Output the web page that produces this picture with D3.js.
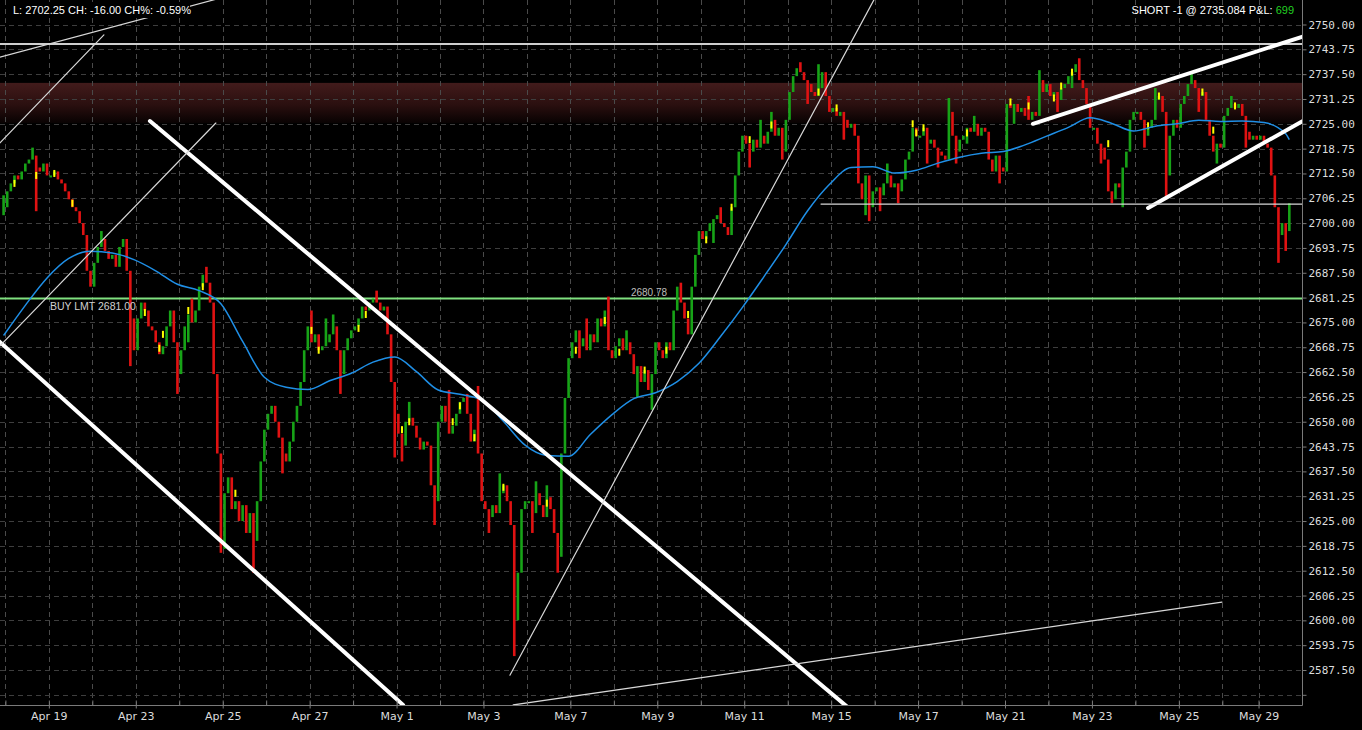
<!DOCTYPE html>
<html>
<head>
<meta charset="utf-8">
<style>
body { margin: 0; background: #000; }
svg { display: block; }
.axis text { fill: #dcdcdc; }
.axis line, .axis path { stroke: #7a7a7a; }
</style>
</head>
<body>
<svg id="chart"></svg>
<script src="https://cdn.jsdelivr.net/npm/d3@7"></script>
<script>
var width = 1362, height = 730;
var plotW = 1302, plotH = 705;

// trading sessions and how many bars each one holds (May 28 was a short holiday session)
var sessions = ["Apr 17", "Apr 18", "Apr 19", "Apr 20", "Apr 23", "Apr 24", "Apr 25", "Apr 26", "Apr 27", "Apr 30",
  "May 1", "May 2", "May 3", "May 4", "May 7", "May 8", "May 9", "May 10", "May 11", "May 14", "May 15",
  "May 16", "May 17", "May 18", "May 21", "May 22", "May 23", "May 24", "May 25", "May 28", "May 29"];
var sessionBars = [1, 12, 12, 12, 12, 12, 12, 12, 12, 12, 12, 12, 12, 12, 12, 12, 12, 12, 12, 12, 12,
  12, 12, 12, 12, 12, 12, 12, 12, 10, 12];
var labeledDays = ["Apr 19", "Apr 23", "Apr 25", "Apr 27", "May 1", "May 3", "May 7", "May 9", "May 11",
  "May 15", "May 17", "May 21", "May 23", "May 25", "May 29"];

// bar closes, one line per session (open = previous close)
var closes = [
  2707,
  2708, 2710, 2712, 2711, 2713, 2715, 2716, 2717, 2714, 2713, 2715, 2712,
  2712, 2713, 2711, 2710, 2708, 2706, 2704, 2703, 2700, 2697, 2688, 2684,
  2690, 2694, 2696, 2693, 2691, 2692, 2689, 2694, 2696, 2688, 2676, 2668,
  2676, 2680, 2678, 2674, 2673, 2670, 2667, 2669, 2674, 2678, 2670, 2662,
  2668, 2674, 2677, 2675, 2678, 2684, 2687, 2685, 2680, 2662, 2642, 2624,
  2632, 2636, 2628, 2630, 2625, 2629, 2622, 2627, 2620, 2630, 2640, 2648,
  2652, 2654, 2650, 2646, 2642, 2640, 2645, 2650, 2654, 2660, 2668, 2674,
  2670, 2672, 2668, 2669, 2670, 2672, 2674, 2668, 2662, 2668, 2671, 2673,
  2674, 2676, 2679, 2678, 2680, 2681, 2680, 2678, 2679, 2672, 2660, 2652,
  2647, 2644, 2650, 2651, 2649, 2646, 2643, 2645, 2644, 2634, 2630, 2650,
  2654, 2650, 2647, 2649, 2652, 2655, 2656, 2652, 2645, 2648, 2642, 2630,
  2628, 2626, 2629, 2627, 2632, 2634, 2630, 2624, 2600, 2612, 2628, 2630,
  2630, 2627, 2632, 2629, 2626, 2631, 2628, 2622, 2616, 2642, 2656, 2666,
  2670, 2673, 2669, 2671, 2668, 2672, 2670, 2676, 2674, 2678, 2668, 2666,
  2669, 2671, 2668, 2670, 2667, 2662, 2664, 2660, 2663, 2658, 2662, 2670,
  2668, 2666, 2670, 2668, 2678, 2684, 2680, 2676, 2672, 2684, 2692, 2698,
  2696, 2698, 2700, 2701, 2702, 2700, 2699, 2697, 2704, 2712, 2718, 2722,
  2720, 2718, 2721, 2719, 2722, 2720, 2723, 2726, 2722, 2724, 2718, 2726,
  2733, 2737, 2739, 2738, 2736, 2735, 2733, 2732, 2734, 2738, 2732, 2728,
  2729, 2727, 2728, 2726, 2724, 2725, 2722, 2710, 2706, 2712, 2704, 2708,
  2709, 2707, 2710, 2712, 2709, 2710, 2708, 2711, 2716, 2718, 2724, 2722,
  2722, 2724, 2720, 2721, 2719, 2718, 2717, 2716, 2728, 2722, 2718, 2721,
  2722, 2724, 2723, 2725, 2722, 2724, 2723, 2716, 2713, 2717, 2714, 2713,
  2730, 2729, 2730, 2728, 2729, 2727, 2726, 2728, 2727, 2736, 2733, 2735,
  2732, 2733, 2731, 2734, 2735, 2737, 2738, 2740, 2736, 2734, 2730, 2724,
  2724, 2720, 2719, 2716, 2708, 2706, 2710, 2709, 2714, 2718, 2726, 2728,
  2728, 2726, 2722, 2724, 2726, 2731, 2732, 2728, 2712, 2722, 2726, 2724,
  2730, 2732, 2735, 2736, 2734, 2732, 2733, 2726, 2722, 2718, 2720, 2719,
  2727, 2729, 2730, 2729, 2730, 2727, 2723, 2721, 2722, 2721,
  2722, 2720, 2719, 2712, 2704, 2697, 2700, 2698, 2702.25
];

// long wicks: [bar, extreme price]
var wicks = [[0, 2702], [1, 2704], [8, 2719], [9, 2703], [27, 2698], [35, 2664], [48, 2657], [51, 2670],
  [52, 2681], [56, 2689], [60, 2617], [61, 2618], [69, 2612], [77, 2637], [85, 2678], [89, 2676],
  [91, 2677], [93, 2657], [103, 2683], [108, 2641], [110, 2640], [112, 2655], [119, 2624], [123, 2658],
  [128, 2657], [131, 2659], [134, 2622], [137, 2637], [141, 2591], [146, 2622], [147, 2635], [150, 2634],
  [153, 2612], [159, 2666], [161, 2676], [167, 2681.5], [172, 2673], [175, 2656], [179, 2653],
  [187, 2685], [196, 2695], [198, 2704], [206, 2714], [209, 2726], [212, 2728], [215, 2716],
  [220, 2740.5], [222, 2730], [225, 2740], [232, 2721], [236, 2716], [238, 2702], [239, 2700.5],
  [242, 2703], [244, 2715], [247, 2705], [255, 2715], [258, 2714], [261, 2731.5], [263, 2715],
  [266, 2720], [268, 2727], [275, 2710], [279, 2725], [283, 2732], [286, 2738.5], [291, 2728],
  [295, 2734], [297, 2741.5], [303, 2715], [306, 2705], [309, 2704], [315, 2719], [318, 2734],
  [321, 2706], [328, 2737.5], [330, 2728], [335, 2715], [339, 2732], [343, 2719], [352, 2690],
  [354, 2693], [355, 2705]];

// yellow (unchanged) bars: [bar, price]
var yellowBars = [[3, 2710], [9, 2712], [14, 2712.5], [19, 2705], [39, 2677.5], [43, 2668.5], [44, 2672],
  [51, 2678], [55, 2684], [64, 2632], [85, 2673], [87, 2668], [98, 2673.5], [100, 2677], [110, 2648],
  [112, 2650], [124, 2650], [126, 2654], [130, 2646], [138, 2633.5], [150, 2629.5], [158, 2668],
  [166, 2675.5], [170, 2667.5], [177, 2663], [183, 2668], [189, 2677], [194, 2695.8], [201, 2704],
  [206, 2721], [212, 2724.7], [225, 2733], [230, 2729], [251, 2725], [252, 2722.7], [254, 2724],
  [266, 2722.7], [278, 2730.5], [283, 2729.5], [290, 2731.5], [292, 2734.5], [295, 2738], [305, 2720],
  [316, 2724.5], [319, 2732], [331, 2733], [334, 2723.4], [340, 2729.5]];

// moving average, one value every 6 bars
var maStep = 6;
var maValues = [2671.7, 2679.3, 2686.2, 2691.1, 2692.9, 2692.5, 2690.8, 2688.0, 2684.6, 2683.0,
  2679.7, 2670.2, 2661.2, 2658.7, 2658.1, 2660.3, 2662.2, 2665.0, 2666.3, 2662.6,
  2658.0, 2656.9, 2655.5, 2650.1, 2644.1, 2641.5, 2641.3, 2646.8, 2651.8, 2655.8,
  2657.3, 2660.1, 2664.7, 2671.5, 2678.8, 2686.6, 2694.6, 2703.1, 2709.7, 2714.0,
  2714.2, 2712.6, 2713.3, 2715.1, 2716.6, 2717.6, 2718.0, 2719.7, 2721.9, 2724.1,
  2726.5, 2725.1, 2723.2, 2724.4, 2725.0, 2725.9, 2725.6, 2725.7, 2725.3, 2722.5, 2721.0];

var priceTicks = [2581.25, 2587.50, 2593.75, 2600.00, 2606.25, 2612.50, 2618.75, 2625.00, 2631.25,
  2637.50, 2643.75, 2650.00, 2656.25, 2662.50, 2668.75, 2675.00, 2681.25, 2687.50, 2693.75,
  2700.00, 2706.25, 2712.50, 2718.75, 2725.00, 2731.25, 2737.50, 2743.75, 2750.00];

// drawn trend lines: [bar1, price1, bar2, price2, thick?]
var trendLines = [
  [-3.25, 2672.3, 110.8, 2578.7, true],
  [40.9, 2725.7, 236.1, 2576.2, true],
  [284.7, 2725.0, 359, 2746.9, true],
  [316.5, 2703.8, 359, 2725.6, true],
  [-0.5, 2720.2, 28.2, 2747.4, false],
  [-0.5, 2741.8, 63.0, 2757.3, false],
  [-0.5, 2669.1, 59.1, 2725.2, false],
  [140.3, 2586.2, 240.8, 2756.2, false],
  [141.2, 2578.7, 336.9, 2604.6, false],
  [226.2, 2704.8, 359, 2704.8, false]
];
var resistLine = 2745.1;
var buyLimit = 2681.0;
var zone = [2725.2, 2735.3];

var svg = d3.select("#chart").attr("width", width).attr("height", height).style("background", "#000");
var defs = svg.append("defs");
defs.append("clipPath").attr("id", "plotClip")
  .append("rect").attr("width", plotW).attr("height", plotH);
var grad = defs.append("linearGradient").attr("id", "zoneGrad")
  .attr("x1", 0).attr("x2", 0).attr("y1", 0).attr("y2", 1);
grad.append("stop").attr("offset", "0%").attr("stop-color", "#421b1b");
grad.append("stop").attr("offset", "55%").attr("stop-color", "#2a0f0f");
grad.append("stop").attr("offset", "100%").attr("stop-color", "#080202");

var starts = [];
var acc = 0;
sessionBars.forEach(function(n) { starts.push(acc); acc += n; });

var x = d3.scaleLinear().domain([0, acc]).range([1.78, plotW]);
var y = d3.scaleLinear().domain([2587.5, 2750]).range([670, 24.5]);

var plot = svg.append("g").attr("clip-path", "url(#plotClip)");

// red supply zone
plot.append("rect")
  .attr("x", 0).attr("width", plotW)
  .attr("y", y(zone[1])).attr("height", y(zone[0]) - y(zone[1]))
  .attr("fill", "url(#zoneGrad)");

// grid
plot.append("g").selectAll("line")
  .data(starts.slice(1))
  .enter().append("line")
  .attr("x1", function(d) { return Math.round(x(d)) + 0.5; })
  .attr("x2", function(d) { return Math.round(x(d)) + 0.5; })
  .attr("y1", 0).attr("y2", plotH)
  .attr("stroke", "#4a4a4a").attr("stroke-dasharray", "5,4");
plot.append("g").selectAll("line")
  .data(priceTicks)
  .enter().append("line")
  .attr("x1", 0).attr("x2", plotW)
  .attr("y1", function(d) { return Math.round(y(d)) + 0.5; })
  .attr("y2", function(d) { return Math.round(y(d)) + 0.5; })
  .attr("stroke", "#3e3e3e").attr("stroke-dasharray", "5,4");

// horizontal levels
plot.append("line")
  .attr("x1", 0).attr("x2", plotW)
  .attr("y1", y(resistLine)).attr("y2", y(resistLine))
  .attr("stroke", "#cfcfcf").attr("stroke-width", 2);
plot.append("line")
  .attr("x1", 0).attr("x2", plotW)
  .attr("y1", y(buyLimit)).attr("y2", y(buyLimit))
  .attr("stroke", "#7fe07f").attr("stroke-width", 2);

// bars
var bars = closes.map(function(c, i) {
  var o = i ? closes[i - 1] : c;
  return { i: i, open: o, close: c, hi: Math.max(o, c), lo: Math.min(o, c) };
});
wicks.forEach(function(w) {
  var b = bars[w[0]];
  b.hi = Math.max(b.hi, w[1]);
  b.lo = Math.min(b.lo, w[1]);
});

plot.append("g").selectAll("rect")
  .data(bars)
  .enter().append("rect")
  .attr("x", function(d) { return x(d.i + 0.5) - 1.3; })
  .attr("width", 2.6)
  .attr("y", function(d) { return y(d.hi); })
  .attr("height", function(d) { return Math.max(2, y(d.lo) - y(d.hi)); })
  .attr("fill", function(d) { return d.close >= d.open ? "#17a317" : "#e01212"; });

plot.append("g").selectAll("rect")
  .data(yellowBars)
  .enter().append("rect")
  .attr("x", function(d) { return x(d[0] + 0.5) - 1; })
  .attr("width", 2)
  .attr("y", function(d) { return y(d[1]) - 3.5; })
  .attr("height", 7)
  .attr("fill", "#ffff00");

// moving average
var maPts = maValues.map(function(v, k) {
  return { i: Math.min(k * maStep, closes.length - 1), v: v };
});
plot.append("path")
  .datum(maPts)
  .attr("fill", "none")
  .attr("stroke", "#1f8fe6")
  .attr("stroke-width", 1.5)
  .attr("d", d3.line()
    .x(function(d) { return x(d.i + 0.5); })
    .y(function(d) { return y(d.v); })
    .curve(d3.curveMonotoneX));

// trend lines
plot.append("g").selectAll("line")
  .data(trendLines)
  .enter().append("line")
  .attr("x1", function(d) { return x(d[0]); })
  .attr("y1", function(d) { return y(d[1]); })
  .attr("x2", function(d) { return x(d[2]); })
  .attr("y2", function(d) { return y(d[3]); })
  .attr("stroke", function(d) { return d[4] ? "#ffffff" : "#d8d8d8"; })
  .attr("stroke-width", function(d) { return d[4] ? 4 : 1.2; })
  .attr("stroke-linecap", "round");

// order labels
plot.append("text")
  .attr("x", x(13.3)).attr("y", y(buyLimit) + 11)
  .attr("fill", "#d0d0d0")
  .style("font", "10.5px 'Liberation Sans', Arial, sans-serif")
  .text("BUY LMT 2681.00");
plot.append("text")
  .attr("x", x(183.7)).attr("y", y(2680.78) - 3)
  .attr("text-anchor", "end")
  .attr("fill", "#bdbdbd")
  .style("font", "10px 'Liberation Sans', Arial, sans-serif")
  .text("2680.78");

// frame
svg.append("line").attr("x1", plotW + 0.5).attr("x2", plotW + 0.5).attr("y1", 0).attr("y2", plotH + 0.5)
  .attr("stroke", "#7a7a7a");
svg.append("line").attr("x1", 0).attr("x2", plotW + 0.5).attr("y1", plotH + 0.5).attr("y2", plotH + 0.5)
  .attr("stroke", "#7a7a7a");

// right price axis
var yAxis = svg.append("g").attr("class", "axis")
  .attr("transform", "translate(" + (plotW + 0.5) + ",0)")
  .call(d3.axisRight(y).tickValues(priceTicks).tickSize(4).tickPadding(2)
    .tickFormat(function(d) { return d >= 2587.5 ? d3.format(".2f")(d) : ""; }));
yAxis.select(".domain").remove();
yAxis.selectAll("text").style("font", "11px 'DejaVu Sans Mono', monospace");

// bottom date axis: small ticks for every session, labels every other one
var dayTicks = starts.slice(1);
var minor = svg.append("g").attr("class", "axis")
  .attr("transform", "translate(0," + (plotH + 0.5) + ")")
  .call(d3.axisBottom(x).tickValues(dayTicks).tickSizeInner(-5).tickSizeOuter(0).tickFormat(""));
minor.select(".domain").remove();

var labeledStarts = labeledDays.map(function(d) { return starts[sessions.indexOf(d)]; });
var xAxis = svg.append("g").attr("class", "axis")
  .attr("transform", "translate(0," + (plotH + 0.5) + ")")
  .call(d3.axisBottom(x).tickValues(labeledStarts).tickSizeInner(3).tickSizeOuter(0).tickPadding(4)
    .tickFormat(function(d) { return sessions[starts.indexOf(d)]; }));
xAxis.select(".domain").remove();
xAxis.selectAll("text").style("font", "11px 'DejaVu Sans', sans-serif");

// header texts
svg.append("rect").attr("x", 10).attr("y", 2).attr("width", 180).attr("height", 16).attr("fill", "#000");
svg.append("text")
  .attr("x", 13).attr("y", 14)
  .attr("fill", "#ffffff")
  .style("font", "11px 'Liberation Sans', Arial, sans-serif")
  .text("L: 2702.25 CH: -16.00 CH%: -0.59%");

var pnl = svg.append("text")
  .attr("x", 1294).attr("y", 14)
  .attr("text-anchor", "end")
  .attr("fill", "#ffffff")
  .style("font", "11px 'Liberation Sans', Arial, sans-serif");
pnl.append("tspan").text("SHORT -1 @ 2735.084 P&L: ");
pnl.append("tspan").attr("fill", "#22d022").text("699");
</script>
</body>
</html>
